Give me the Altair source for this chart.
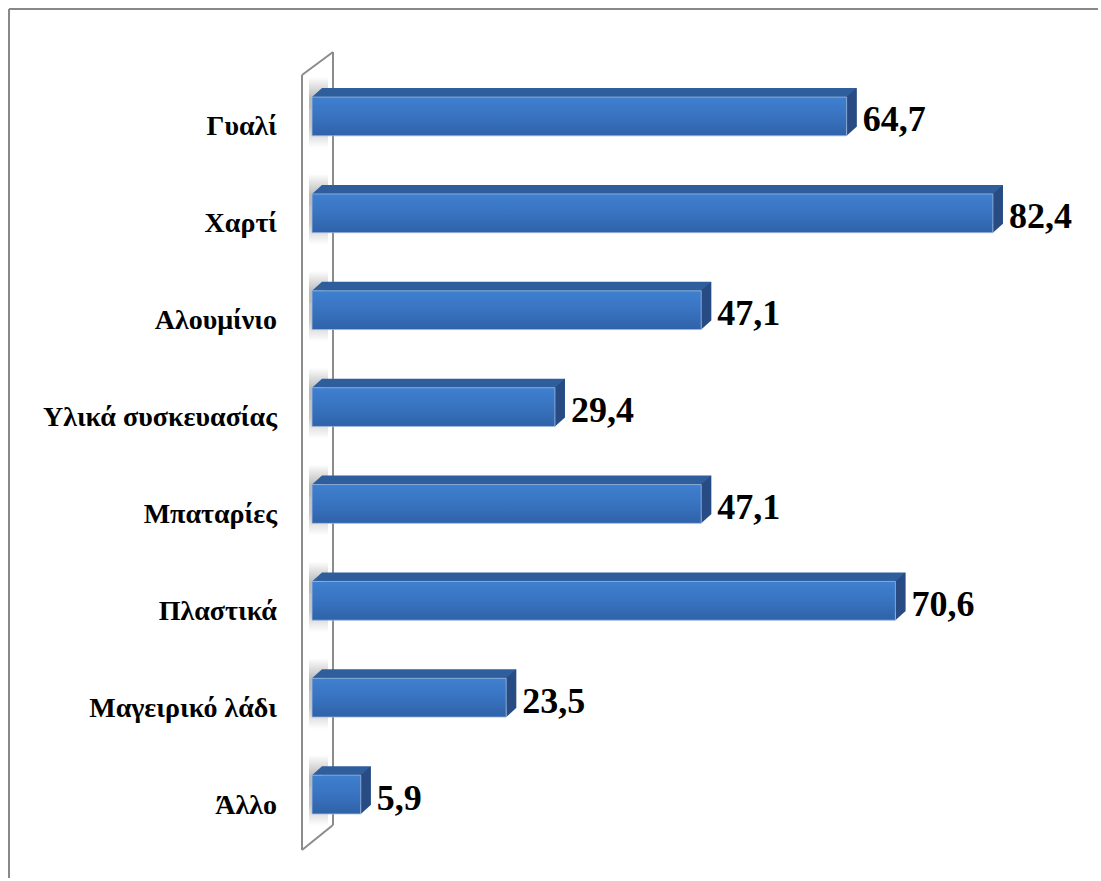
import altair as alt
import pandas as pd

categories = ["Γυαλί", "Χαρτί", "Αλουμίνιο", "Υλικά συσκευασίας",
              "Μπαταρίες", "Πλαστικά", "Μαγειρικό λάδι", "Άλλο"]
values = [64.7, 82.4, 47.1, 29.4, 47.1, 70.6, 23.5, 5.9]
value_labels = ["64,7", "82,4", "47,1", "29,4", "47,1", "70,6", "23,5", "5,9"]

df = pd.DataFrame({"cat": categories, "value": values, "label": value_labels})

FONT = "Liberation Serif"
TOP_C = "#2f5e9c"
SIDE_C = "#284b83"

y_enc = alt.Y("cat:N", sort=categories, axis=None,
              scale=alt.Scale(paddingInner=0.6, paddingOuter=0.3))
x_scale = alt.Scale(domain=[0, 95], nice=False, zero=True)

base = alt.Chart(df).transform_calculate(zero="0")


def grad(stops):
    return alt.LinearGradient(
        gradient="linear",
        stops=[alt.GradientStop(offset=o, color=c) for o, c in stops],
        x1=0, y1=0, x2=0, y2=1)


shadow_top = base.mark_bar(
    xOffset=-3, x2Offset=16, yOffset=-20,
    color=grad([(0, "#ffffff"), (0.55, "#b9b9b9"), (1, "#b9b9b9")])
).encode(x=alt.X("zero:Q", scale=x_scale, axis=None), x2="zero:Q", y=y_enc)

shadow_bot = base.mark_bar(
    xOffset=-3, x2Offset=16, yOffset=12,
    color=grad([(0, "#c2c2c2"), (0.45, "#c8c8c8"), (1, "#ffffff")])
).encode(x=alt.X("zero:Q", scale=x_scale), x2="zero:Q", y=y_enc)

back = base.mark_bar(color=TOP_C, xOffset=10, x2Offset=10, yOffset=-9).encode(
    x=alt.X("value:Q", scale=x_scale), x2="zero:Q", y=y_enc)

left_tri = base.mark_point(
    shape="M0,-0.6458L0.3333,-0.9458L0.3333,-0.6458Z", size=3600,
    filled=True, opacity=1, color=TOP_C, strokeWidth=0
).encode(x=alt.X("zero:Q", scale=x_scale), y=y_enc)

side = base.mark_point(
    shape="M0,-0.6458L0.3333,-0.9458L0.3333,0.3458L0,0.6458Z", size=3600,
    filled=True, opacity=1, color=SIDE_C, strokeWidth=0
).encode(x=alt.X("value:Q", scale=x_scale), y=y_enc)

front = base.mark_bar(
    color=grad([(0, "#3f80d0"), (0.5, "#3873c0"), (1, "#2f62a8")]),
    stroke="#9fb9de", strokeWidth=0.8
).encode(x=alt.X("value:Q", scale=x_scale), x2="zero:Q", y=y_enc)

vlabels = base.mark_text(
    align="left", baseline="alphabetic", dx=16, dy=15,
    font=FONT, fontSize=36, fontWeight="bold", color="#000000"
).encode(x=alt.X("value:Q", scale=x_scale), y=y_enc, text="label:N")

clabels = base.mark_text(
    align="right", baseline="alphabetic", dx=-35, dy=19,
    font=FONT, fontSize=28, fontWeight="bold", color="#000000"
).encode(x=alt.X("zero:Q", scale=x_scale), y=y_enc, text="cat:N")

one = pd.DataFrame({"k": [0]})


def seg(x1, y1, x2, y2, color="#8c8c8c", w=2):
    return alt.Chart(one).mark_rule(color=color, strokeWidth=w).encode(
        x=alt.value(x1), y=alt.value(y1), x2=alt.value(x2), y2=alt.value(y2))


wall = [
    seg(-10, 7, -10, 782),
    seg(21, -16, 21, 757),
    seg(-10, 7, 21, -16),
    seg(-10, 782, 21, 757),
]
border = [
    seg(-303, -59, 786, -59, color="#888888", w=2),
    seg(-303, -59, -303, 810, color="#888888", w=2),
]

chart = alt.layer(
    shadow_top, shadow_bot, *wall, back, left_tri, side, front, vlabels, clabels, *border
).properties(
    width=785, height=775,
    padding={"left": 312, "top": 68, "right": 3, "bottom": 37},
    autosize=alt.AutoSizeParams(type="none"),
    background="white",
).configure_view(strokeWidth=0)

chart.save("out.html", embed_options={"renderer": "svg", "actions": False})
